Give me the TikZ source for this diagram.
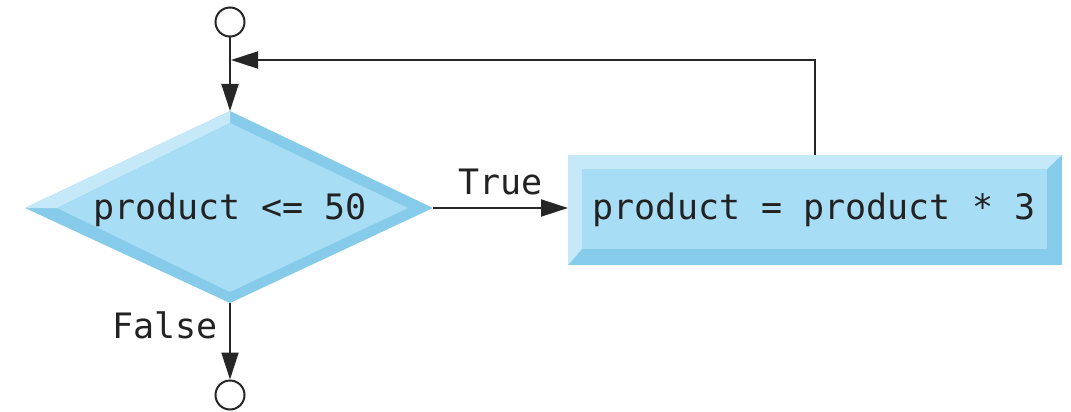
\documentclass[tikz,border=0pt]{standalone}
\usepackage{fontspec}
\newfontfamily\codefont{DejaVu Sans Mono}
\usetikzlibrary{arrows.meta}
\definecolor{mainblue}{HTML}{A8DDF6}
\definecolor{lightblue}{HTML}{C6E9F9}
\definecolor{darkblue}{HTML}{86CBEA}
\definecolor{txt}{HTML}{222222}
\tikzset{
  code/.style={font=\codefont\fontsize{35}{38}\selectfont, text=txt, inner sep=0pt},
  flow/.style={line width=2pt, draw=black!85},
  arrow/.style={flow, -{Triangle[length=27pt,width=17pt]}},
  terminal/.style={circle, draw=black!85, line width=2pt, minimum size=29pt, inner sep=0pt, fill=white}
}
\begin{document}
\begin{tikzpicture}[x=1pt,y=-1pt]
\useasboundingbox (0,0) rectangle (1071,412);
% diamond
\coordinate (dT) at (230,111);
\coordinate (dL) at (25,208);
\coordinate (dR) at (433,208);
\coordinate (dB) at (230,303);
\coordinate (iT) at (230,123);
\coordinate (iL) at (57,208);
\coordinate (iR) at (408,208);
\coordinate (iB) at (230,292);
\fill[darkblue] (dT) -- (dR) -- (dB) -- (dL) -- cycle;
\fill[lightblue] (dL) -- (dT) -- (iT) -- (iL) -- cycle;
\fill[mainblue] (iT) -- (iR) -- (iB) -- (iL) -- cycle;
% rectangle
\coordinate (rNW) at (568,155);
\coordinate (rNE) at (1062,155);
\coordinate (rSE) at (1062,265);
\coordinate (rSW) at (568,265);
\coordinate (sNW) at (582,169);
\coordinate (sNE) at (1047,169);
\coordinate (sSE) at (1047,249);
\coordinate (sSW) at (582,249);
\fill[darkblue] (rNW) -- (rNE) -- (rSE) -- (rSW) -- cycle;
\fill[lightblue] (rSW) -- (rNW) -- (rNE) -- (sNE) -- (sNW) -- (sSW) -- cycle;
\fill[mainblue] (sNW) rectangle (sSE);
\coordinate (rL) at (568,208);
\coordinate (rT) at (815,155);
% texts
\node[code] (cond) at (230,210) {product <= 50};
\node[code] (body) at (814,210) {product = product * 3};
% terminals
\node[terminal] (start) at (230,22) {};
\node[terminal] (stop) at (230,395) {};
% connectors
\draw[arrow] (start) -- (dT);
\draw[arrow] (dR) -- node[code, above=12pt] (true) {True} (rL);
\draw[arrow] (dB) -- (stop);
\node[code, anchor=east] (false) at (218,325) {False};
\coordinate (join) at (231,60);
\draw[arrow] (rT) -- (815,60) -- (join);
\end{tikzpicture}
\end{document}
